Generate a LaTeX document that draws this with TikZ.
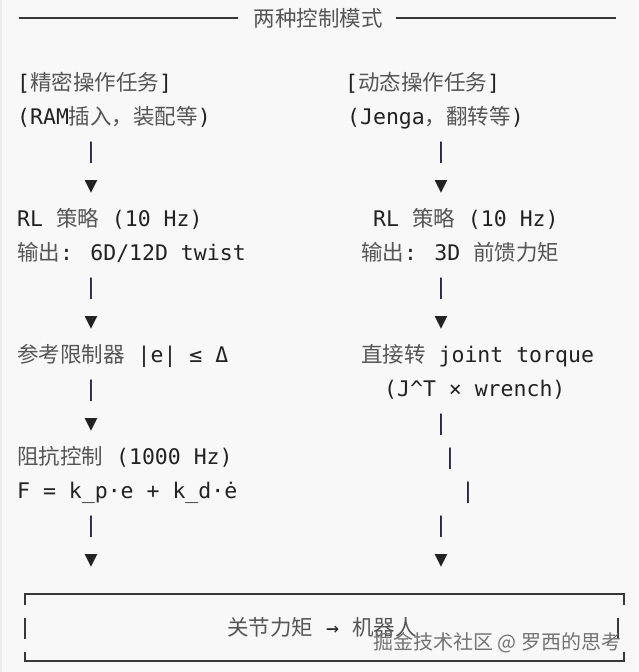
\documentclass[tikz,border=0pt]{standalone}
\usepackage{fontspec}
\setmainfont{DejaVu Sans Mono}
\newfontfamily\cjk{Noto Sans CJK SC}
\definecolor{fond}{HTML}{F8F8F8}
\definecolor{encre}{HTML}{222222}
\definecolor{gris}{HTML}{555555}
\newcommand{\zh}[1]{{\cjk\color{gris}#1}}

\begin{document}
\begin{tikzpicture}[x=1pt,y=-1pt]
\tikzstyle{ligne}=[anchor=base west, inner sep=0pt, text=encre, font=\fontsize{21.5}{26}\selectfont];
\tikzstyle{barre}=[anchor=base, inner sep=0pt, text=encre!90!blue, font=\fontsize{21.5}{26}\selectfont];
\tikzstyle{pointe}=[anchor=base, inner sep=0pt, text=encre, font=\fontsize{21.5}{26}\selectfont];
\tikzstyle{cadre}=[line width=1.6pt, encre!90];
\fill[fond] (0,0) rectangle (638,672);
\fill[black!7] (0,0) rectangle (2,672);
\useasboundingbox (0,0) rectangle (638,672);

% titre
\node[ligne, anchor=center] (titre) at (318,18) {\zh{两种控制模式}};
\draw[cadre, line width=1.4pt] (19,18) -- (titre.west -| 238,0);
\draw[cadre, line width=1.4pt] (titre.east -| 396,0) -- (616,18);

% colonne gauche : precision
\node[ligne] (gTache) at (17,90) {[\zh{精密操作任务}]};
\node[ligne] (gEx) at (17,124) {(RAM\zh{插入，装配等})};
\node[barre] (gB1) at (91,158) {|};
\node[pointe] (gP1) at (91,192) {▼};
\node[ligne] (gRL) at (17,226) {RL \zh{策略} (10 Hz)};
\node[ligne] (gSortie) at (17,260) {\zh{输出}: 6D/12D twist};
\node[barre] (gB2) at (91,294) {|};
\node[pointe] (gP2) at (91,328) {▼};
\node[ligne] (gLimite) at (17,362) {\zh{参考限制器} |e| ≤ Δ};
\node[barre] (gB3) at (91,396) {|};
\node[pointe] (gP3) at (91,430) {▼};
\node[ligne] (gImp) at (17,464) {\zh{阻抗控制} (1000 Hz)};
\node[ligne] (gLoi) at (17,498) {F = k\_p·e + k\_d·ė};
\node[barre] (gB4) at (91,532) {|};
\node[pointe] (gP4) at (91,566) {▼};

% colonne droite : dynamique
\node[ligne] (dTache) at (345,90) {[\zh{动态操作任务}]};
\node[ligne] (dEx) at (347,124) {(Jenga\zh{，翻转等})};
\node[barre] (dB1) at (441,158) {|};
\node[pointe] (dP1) at (441,192) {▼};
\node[ligne] (dRL) at (373,226) {RL \zh{策略} (10 Hz)};
\node[ligne] (dSortie) at (361,260) {\zh{输出}: 3D \zh{前馈力矩}};
\node[barre] (dB2) at (441,294) {|};
\node[pointe] (dP2) at (441,328) {▼};
\node[ligne] (dCouple) at (361,362) {\zh{直接转} joint torque};
\node[ligne] (dJac) at (384,396) {(J\textasciicircum T × wrench)};
\node[barre] (dB3) at (441,430) {|};
\node[barre] (dB4) at (450,464) {|};
\node[barre] (dB5) at (468,498) {|};
\node[barre] (dB6) at (441,532) {|};
\node[pointe] (dP3) at (441,566) {▼};

% cadre du bas
\draw[cadre] (25,605) -- (25,594) -- (624,594) -- (624,605);
\draw[cadre] (25,618) -- (25,639);
\draw[cadre] (618,618) -- (618,639);
\draw[cadre] (25,652) -- (25,661) -- (624,661) -- (624,652);
\node[ligne] (robot) at (227,635) {\zh{关节力矩} → \zh{机器人}};
\node[anchor=west, inner sep=0pt, text=black!55, font=\cjk\fontsize{20}{24}\selectfont] (marque) at (373,643) {掘金技术社区 @ 罗西的思考};
\end{tikzpicture}
\end{document}
